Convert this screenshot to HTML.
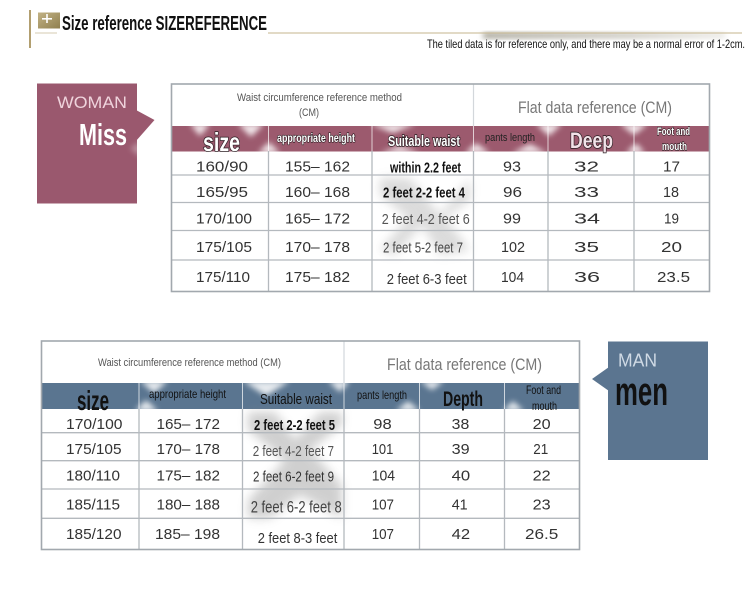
<!DOCTYPE html>
<html><head><meta charset="utf-8"><style>
html,body{margin:0;padding:0;background:#fff;}
svg{display:block;}
.c{font-family:"Liberation Sans Narrow","Liberation Sans",sans-serif;}
.n{font-family:"Liberation Sans",sans-serif;font-size:15px;fill:#333;}
</style></head><body>
<svg width="750" height="591" viewBox="0 0 750 591" xmlns="http://www.w3.org/2000/svg">
<defs>
<filter id="b" x="-50%" y="-50%" width="200%" height="200%"><feGaussianBlur stdDeviation="3"/></filter>
<filter id="b2" x="-50%" y="-50%" width="200%" height="200%"><feGaussianBlur stdDeviation="5"/></filter>
<linearGradient id="sh" x1="0" x2="1" y1="0" y2="0">
<stop offset="0" stop-color="#8c8878" stop-opacity="0.9"/><stop offset="0.6" stop-color="#a9a597" stop-opacity="0.7"/><stop offset="1" stop-color="#cfccc2" stop-opacity="0.5"/>
</linearGradient>
<linearGradient id="ic" x1="0" x2="1" y1="0" y2="1">
<stop offset="0" stop-color="#c2b285"/><stop offset="1" stop-color="#8f7f4e"/>
</linearGradient>
</defs>
<rect width="750" height="591" fill="#fff"/>

<!-- Title -->
<rect x="29" y="10" width="2" height="38" fill="#b29f70"/>
<rect x="38" y="12.5" width="22" height="16" fill="url(#ic)"/>
<rect x="42" y="18" width="10" height="1.6" fill="#fff"/>
<rect x="46.2" y="14" width="1.6" height="9" fill="#fff"/>
<line x1="35" y1="33" x2="57" y2="33" stroke="#d6cbb0" stroke-width="1"/>
<text class="c" x="62" y="30" font-size="20" font-weight="bold" fill="#111" textLength="205" lengthAdjust="spacingAndGlyphs">Size reference SIZEREFERENCE</text>
<rect x="483" y="33" width="242" height="5" fill="url(#sh)" filter="url(#b)"/>
<line x1="268" y1="33" x2="742" y2="33" stroke="#c6b68e" stroke-width="1"/>
<text class="c" x="427" y="48" font-size="12" fill="#111" textLength="318" lengthAdjust="spacingAndGlyphs">The tiled data is for reference only, and there may be a normal error of 1-2cm.</text>

<!-- WOMAN box -->
<rect x="37" y="83.5" width="100" height="120" fill="#9a586e"/>
<polygon points="136,110 154.5,120 136,141" fill="#9a586e"/>
<polygon points="130,148 140,142 142,158" fill="#fff" opacity="0.35" filter="url(#b)"/>
<text x="57" y="108" font-family="Liberation Sans,sans-serif" font-size="17" fill="#efd3dc" textLength="70" lengthAdjust="spacingAndGlyphs">WOMAN</text>
<text class="c" x="79" y="145" font-size="31" font-weight="bold" fill="#fff" textLength="48" lengthAdjust="spacingAndGlyphs">Miss</text>

<!-- Top table -->
<rect x="172" y="126" width="537" height="25.5" fill="#9c5a6e"/>
<g fill="#fff" filter="url(#b)" opacity="0.85">
<polygon points="190,124 210,124 200,136"/>
<polygon points="238,124 264,124 251,137"/>
<polygon points="258,153 280,153 269,142"/>
<polygon points="370,124 416,124 393,133"/>
<polygon points="380,153 420,153 400,146"/>
<polygon points="465,153 490,153 476,143"/>
<polygon points="512,153 547,153 530,144"/>
<polygon points="536,124 562,124 549,136"/>
<polygon points="620,124 648,124 634,135"/>
<polygon points="626,153 645,153 636,143"/>
</g>
<!-- gray artifacts in suitable waist column -->
<g fill="#9a9a9a" opacity="0.35" filter="url(#b2)">
<polygon points="380,178 410,178 440,215 470,178 470,200 445,218 470,250 440,255 422,225 395,255 380,250 408,218 380,195"/>
</g>
<line x1="473.5" y1="84" x2="473.5" y2="126" stroke="#d3d7db" stroke-width="1.2"/>
<g stroke="#fff" stroke-width="1" opacity="0.7">
<line x1="268.5" y1="126" x2="268.5" y2="151"/><line x1="372" y1="126" x2="372" y2="151"/>
<line x1="473.5" y1="126" x2="473.5" y2="151"/><line x1="548" y1="126" x2="548" y2="151"/><line x1="634" y1="126" x2="634" y2="151"/>
</g>
<g stroke="#b4b9be" stroke-width="1.3">
<line x1="268.5" y1="151" x2="268.5" y2="291"/><line x1="372" y1="151" x2="372" y2="291"/>
<line x1="473.5" y1="151" x2="473.5" y2="291"/><line x1="548" y1="151" x2="548" y2="291"/><line x1="634" y1="151" x2="634" y2="291"/>
<line x1="172" y1="175" x2="709" y2="175"/><line x1="172" y1="202.5" x2="709" y2="202.5"/>
<line x1="172" y1="230.5" x2="709" y2="230.5"/><line x1="172" y1="260" x2="709" y2="260"/>
</g>
<rect x="171.5" y="84" width="538" height="207.5" fill="none" stroke="#a2a8ae" stroke-width="1.6"/>

<text class="c" x="237" y="101" font-size="11" fill="#555" textLength="165" lengthAdjust="spacingAndGlyphs">Waist circumference reference method</text>
<text class="c" x="299" y="116" font-size="11" fill="#555" textLength="20" lengthAdjust="spacingAndGlyphs">(CM)</text>
<text class="c" x="518" y="113" font-size="17" fill="#777" textLength="154" lengthAdjust="spacingAndGlyphs">Flat data reference (CM)</text>

<g class="c" font-weight="bold" fill="#fff" stroke="#2a1e22" stroke-width="1.6" paint-order="stroke">
<text x="203" y="151" font-size="26" textLength="37" lengthAdjust="spacingAndGlyphs">size</text>
<text x="277" y="142" font-size="12" textLength="78" lengthAdjust="spacingAndGlyphs" stroke-width="1.2">appropriate height</text>
<text x="388" y="146" font-size="15" textLength="72" lengthAdjust="spacingAndGlyphs">Suitable waist</text>
<text x="570" y="148" font-size="22" fill="#f2e2e8" textLength="43" lengthAdjust="spacingAndGlyphs">Deep</text>
<text x="657" y="135" font-size="11" textLength="33" lengthAdjust="spacingAndGlyphs" stroke-width="1.2">Foot and</text>
<text x="662" y="150" font-size="11" textLength="25" lengthAdjust="spacingAndGlyphs" stroke-width="1.2">mouth</text>
</g>
<text class="c" x="485" y="141" font-size="11" fill="#222" textLength="50" lengthAdjust="spacingAndGlyphs">pants length</text>

<g class="n">
<text x="196" y="171.5" textLength="52" lengthAdjust="spacingAndGlyphs">160/90</text>
<text x="196" y="197" textLength="52" lengthAdjust="spacingAndGlyphs">165/95</text>
<text x="196" y="223.3" textLength="56" lengthAdjust="spacingAndGlyphs">170/100</text>
<text x="196" y="252" textLength="56" lengthAdjust="spacingAndGlyphs">175/105</text>
<text x="196" y="282" textLength="54" lengthAdjust="spacingAndGlyphs">175/110</text>
<text x="285" y="171.5" textLength="65" lengthAdjust="spacingAndGlyphs">155– 162</text>
<text x="285" y="197" textLength="65" lengthAdjust="spacingAndGlyphs">160– 168</text>
<text x="285" y="223.3" textLength="65" lengthAdjust="spacingAndGlyphs">165– 172</text>
<text x="285" y="252" textLength="65" lengthAdjust="spacingAndGlyphs">170– 178</text>
<text x="285" y="282" textLength="65" lengthAdjust="spacingAndGlyphs">175– 182</text>
<text x="503" y="171.5" textLength="18" lengthAdjust="spacingAndGlyphs">93</text>
<text x="503" y="197" textLength="19" lengthAdjust="spacingAndGlyphs">96</text>
<text x="503" y="223.3" textLength="18" lengthAdjust="spacingAndGlyphs">99</text>
<text x="501" y="252" textLength="24" lengthAdjust="spacingAndGlyphs">102</text>
<text x="501" y="282" textLength="23" lengthAdjust="spacingAndGlyphs">104</text>
<text x="574" y="171.5" textLength="25" lengthAdjust="spacingAndGlyphs">32</text>
<text x="574" y="197" textLength="25" lengthAdjust="spacingAndGlyphs">33</text>
<text x="574" y="223.3" textLength="26" lengthAdjust="spacingAndGlyphs">34</text>
<text x="574" y="252" textLength="25" lengthAdjust="spacingAndGlyphs">35</text>
<text x="574" y="282" textLength="26" lengthAdjust="spacingAndGlyphs">36</text>
<text x="663" y="171.5" textLength="17" lengthAdjust="spacingAndGlyphs">17</text>
<text x="663" y="197" textLength="16" lengthAdjust="spacingAndGlyphs">18</text>
<text x="664" y="223.3" textLength="15" lengthAdjust="spacingAndGlyphs">19</text>
<text x="661" y="252" textLength="21" lengthAdjust="spacingAndGlyphs">20</text>
<text x="657" y="282" textLength="33" lengthAdjust="spacingAndGlyphs">23.5</text>
</g>
<g class="c" font-size="15">
<text x="390" y="172.7" font-weight="bold" fill="#111" textLength="71" lengthAdjust="spacingAndGlyphs">within 2.2 feet</text>
<text x="383" y="197.3" font-weight="bold" fill="#111" textLength="82" lengthAdjust="spacingAndGlyphs">2 feet 2-2 feet 4</text>
<text x="381.7" y="224" fill="#555" textLength="88" lengthAdjust="spacingAndGlyphs">2 feet 4-2 feet 6</text>
<text x="383" y="252.7" fill="#444" textLength="80" lengthAdjust="spacingAndGlyphs">2 feet 5-2 feet 7</text>
<text x="386.7" y="284" fill="#333" textLength="80" lengthAdjust="spacingAndGlyphs">2 feet 6-3 feet</text>
</g>

<!-- MAN box -->
<rect x="608" y="341.5" width="100" height="118.5" fill="#5b7590"/>
<polygon points="609,367 592,379 609,391" fill="#5b7590"/>
<text x="618" y="366.7" font-family="Liberation Sans,sans-serif" font-size="18" fill="#d0dae5" textLength="39" lengthAdjust="spacingAndGlyphs">MAN</text>
<text class="c" x="615" y="405" font-size="40" font-weight="bold" fill="#111" textLength="53" lengthAdjust="spacingAndGlyphs">men</text>

<!-- Bottom table -->
<rect x="42" y="383" width="537" height="26" fill="#5a7590"/>
<g fill="#fff" filter="url(#b)" opacity="0.85">
<polygon points="140,381 168,381 154,393"/>
<polygon points="135,411 158,411 146,400"/>
<polygon points="243,381 290,381 266,396"/>
<polygon points="328,381 350,381 340,392"/>
<polygon points="420,381 444,381 432,390"/>
<polygon points="396,411 420,411 408,401"/>
<polygon points="503,411 524,411 513,401"/>
</g>
<g fill="#8a8a8a" opacity="0.4" filter="url(#b2)">
<polygon points="248,412 275,412 295,440 320,412 342,412 342,425 310,450 342,485 342,518 300,495 270,518 248,518 248,500 285,460 248,430"/>
</g>
<line x1="344" y1="341" x2="344" y2="383" stroke="#d3d7db" stroke-width="1.2"/>
<g stroke="#fff" stroke-width="1" opacity="0.7">
<line x1="139" y1="383" x2="139" y2="409"/><line x1="242.5" y1="383" x2="242.5" y2="409"/>
<line x1="344" y1="383" x2="344" y2="409"/><line x1="419.5" y1="383" x2="419.5" y2="409"/><line x1="504.5" y1="383" x2="504.5" y2="409"/>
</g>
<g stroke="#b4b9be" stroke-width="1.3">
<line x1="139" y1="409" x2="139" y2="549"/><line x1="242.5" y1="409" x2="242.5" y2="549"/>
<line x1="344" y1="409" x2="344" y2="549"/><line x1="419.5" y1="409" x2="419.5" y2="549"/><line x1="504.5" y1="409" x2="504.5" y2="549"/>
<line x1="42" y1="432.7" x2="579" y2="432.7"/><line x1="42" y1="460.7" x2="579" y2="460.7"/>
<line x1="42" y1="489" x2="579" y2="489"/><line x1="42" y1="518.3" x2="579" y2="518.3"/>
</g>
<rect x="41.5" y="341" width="538" height="208.5" fill="none" stroke="#a2a8ae" stroke-width="1.6"/>

<text class="c" x="98" y="366" font-size="11" fill="#555" textLength="183" lengthAdjust="spacingAndGlyphs">Waist circumference reference method (CM)</text>
<text class="c" x="387" y="370" font-size="17" fill="#777" textLength="155" lengthAdjust="spacingAndGlyphs">Flat data reference (CM)</text>

<g class="c" fill="#111">
<text x="77" y="410" font-size="28" font-weight="bold" textLength="32" lengthAdjust="spacingAndGlyphs">size</text>
<text x="149" y="398" font-size="12" textLength="77" lengthAdjust="spacingAndGlyphs">appropriate height</text>
<text x="260" y="404" font-size="15" textLength="72" lengthAdjust="spacingAndGlyphs">Suitable waist</text>
<text x="357" y="399" font-size="12" textLength="50" lengthAdjust="spacingAndGlyphs">pants length</text>
<text x="443" y="406" font-size="21" font-weight="bold" textLength="40" lengthAdjust="spacingAndGlyphs">Depth</text>
<text x="526" y="394" font-size="12" textLength="35" lengthAdjust="spacingAndGlyphs">Foot and</text>
<text x="532" y="410" font-size="12" textLength="25" lengthAdjust="spacingAndGlyphs">mouth</text>
</g>

<g class="n">
<text x="66" y="429" textLength="56.5" lengthAdjust="spacingAndGlyphs">170/100</text>
<text x="66" y="454" textLength="55.5" lengthAdjust="spacingAndGlyphs">175/105</text>
<text x="66" y="480.5" textLength="54" lengthAdjust="spacingAndGlyphs">180/110</text>
<text x="66" y="509.5" textLength="54" lengthAdjust="spacingAndGlyphs">185/115</text>
<text x="66" y="539" textLength="55.5" lengthAdjust="spacingAndGlyphs">185/120</text>
<text x="156.5" y="429" textLength="63.5" lengthAdjust="spacingAndGlyphs">165– 172</text>
<text x="156.5" y="454" textLength="63.5" lengthAdjust="spacingAndGlyphs">170– 178</text>
<text x="156.5" y="480.5" textLength="63.5" lengthAdjust="spacingAndGlyphs">175– 182</text>
<text x="156.5" y="509.5" textLength="63.5" lengthAdjust="spacingAndGlyphs">180– 188</text>
<text x="155" y="539" textLength="65" lengthAdjust="spacingAndGlyphs">185– 198</text>
<text x="373.3" y="429" textLength="18.4" lengthAdjust="spacingAndGlyphs">98</text>
<text x="371.7" y="454" textLength="21.6" lengthAdjust="spacingAndGlyphs">101</text>
<text x="371.7" y="480.5" textLength="23.3" lengthAdjust="spacingAndGlyphs">104</text>
<text x="371.7" y="509.5" textLength="22.3" lengthAdjust="spacingAndGlyphs">107</text>
<text x="371.7" y="539" textLength="22.3" lengthAdjust="spacingAndGlyphs">107</text>
<text x="451.7" y="429" textLength="17.6" lengthAdjust="spacingAndGlyphs">38</text>
<text x="451.7" y="454" textLength="18" lengthAdjust="spacingAndGlyphs">39</text>
<text x="451.7" y="480.5" textLength="18.5" lengthAdjust="spacingAndGlyphs">40</text>
<text x="451.7" y="509.5" textLength="16" lengthAdjust="spacingAndGlyphs">41</text>
<text x="451.7" y="539" textLength="18.5" lengthAdjust="spacingAndGlyphs">42</text>
<text x="532.7" y="429" textLength="18" lengthAdjust="spacingAndGlyphs">20</text>
<text x="533.3" y="454" textLength="15" lengthAdjust="spacingAndGlyphs">21</text>
<text x="532.7" y="480.5" textLength="18" lengthAdjust="spacingAndGlyphs">22</text>
<text x="532.7" y="509.5" textLength="18" lengthAdjust="spacingAndGlyphs">23</text>
<text x="525" y="539" textLength="33.3" lengthAdjust="spacingAndGlyphs">26.5</text>
</g>
<g class="c" font-size="15">
<text x="254" y="430" font-weight="bold" fill="#111" textLength="81" lengthAdjust="spacingAndGlyphs">2 feet 2-2 feet 5</text>
<text x="252.7" y="456" fill="#555" textLength="81.3" lengthAdjust="spacingAndGlyphs">2 feet 4-2 feet 7</text>
<text x="253" y="481.7" fill="#333" textLength="81" lengthAdjust="spacingAndGlyphs">2 feet 6-2 feet 9</text>
<text x="250.7" y="512.7" font-size="17" fill="#444" textLength="91" lengthAdjust="spacingAndGlyphs">2 feet 6-2 feet 8</text>
<text x="257.7" y="543" fill="#333" textLength="79.6" lengthAdjust="spacingAndGlyphs">2 feet 8-3 feet</text>
</g>
</svg>
</body></html>
